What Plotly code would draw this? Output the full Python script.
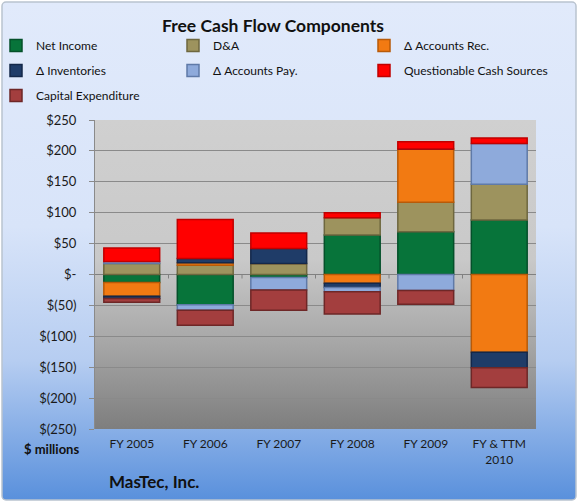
import base64
import plotly.graph_objects as go

# ---- data (USD millions) ----
categories = ["FY 2005", "FY 2006", "FY 2007", "FY 2008", "FY 2009", "FY & TTM<br>2010"]
net_income = [-13, -49, -5, 64, 69, 88]
d_and_a = [18, 15, 18, 28, 48, 58]
accounts_rec = [-22, 4, 0, -14, 86, -126]
inventories = [-4, 7, 24, -7, 0, -25]
accounts_pay = [3, -9, -20, -7, -26, 66]
questionable = [22, 63, 25, 8, 12, 9]
capex = [-6, -24, -33, -36, -22, -32]

y_tick_vals = [250, 200, 150, 100, 50, 0, -50, -100, -150, -200, -250]
y_tick_text = ["$250", "$200", "$150", "$100", "$50", "$-", "$(50)", "$(100)",
               "$(150)", "$(200)", "$(250)"]

series = [
    ("Net Income", net_income, "#07743a", "#04502a", "legend", "g1"),
    ("D&A", d_and_a, "#9d935e", "#6e673f", "legend2", "g2"),
    ("Δ Accounts Rec.", accounts_rec, "#f27a12", "#b85a08", "legend3", "g3"),
    ("Δ Inventories", inventories, "#1f3c68", "#14284a", "legend", "g4"),
    ("Δ Accounts Pay.", accounts_pay, "#8eaadb", "#5f7aa8", "legend2", "g5"),
    ("Questionable Cash Sources", questionable, "#ff0000", "#c00000", "legend3", "g6"),
    ("Capital Expenditure", capex, "#a33e3e", "#6e2727", "legend", "g7"),
]

W, H = 578, 502
L, R, T, B = 95, 42, 120, 73
pw, ph = W - L - R, H - T - B

FONT = "Lato, 'Open Sans', sans-serif"


def svg_uri(svg):
    return "data:image/svg+xml;base64," + base64.b64encode(svg.encode()).decode()


outer_svg = f"""<svg xmlns='http://www.w3.org/2000/svg' width='{W}' height='{H}' viewBox='0 0 {W} {H}' preserveAspectRatio='none'>
<defs><linearGradient id='g' x1='0' y1='0' x2='0' y2='1'>
<stop offset='0' stop-color='#e1eafb'/><stop offset='0.45' stop-color='#d8e4f9'/>
<stop offset='0.72' stop-color='#b6cdf1'/><stop offset='1' stop-color='#5990dc'/>
</linearGradient></defs>
<rect x='0' y='0' width='{W}' height='{H}' fill='#ffffff'/>
<rect x='2' y='2' width='{W-4}' height='{H-4}' rx='4' ry='4' fill='url(#g)' stroke='#b9c3cf' stroke-width='1.5'/>
</svg>"""

plot_svg = """<svg xmlns='http://www.w3.org/2000/svg' width='100' height='100' viewBox='0 0 100 100' preserveAspectRatio='none'>
<defs><linearGradient id='p' x1='0' y1='0' x2='0' y2='1'>
<stop offset='0' stop-color='#d0d0d0'/><stop offset='0.45' stop-color='#c9c9c9'/>
<stop offset='0.72' stop-color='#a7a7a7'/><stop offset='1' stop-color='#7e7e7e'/>
</linearGradient></defs>
<rect x='0' y='0' width='100' height='100' fill='url(#p)'/>
</svg>"""

fig = go.Figure()
for name, vals, col, line, leg, grp in series:
    fig.add_trace(go.Bar(
        x=categories, y=vals, name=name,
        marker=dict(color=col, line=dict(color=line, width=1.5)),
        legend=leg, legendgroup=grp,
    ))

leg_common = dict(orientation="v", xref="paper", yref="container",
                  yanchor="top", xanchor="left", bgcolor="rgba(0,0,0,0)",
                  font=dict(family=FONT, size=12, color="#111111"),
                  tracegroupgap=6, itemwidth=30)
ly = 1 - 31 / H

# small tick marks on the zero line between categories
tick_shapes = [
    dict(type="line", xref="x", yref="y", x0=i + 0.5, x1=i + 0.5,
         ysizemode="pixel", yanchor=0, y0=0, y1=-4,
         line=dict(color="#808080", width=1), layer="above")
    for i in range(len(categories) - 1)
]

fig.update_layout(
    width=W, height=H,
    margin=dict(l=L, r=R, t=T, b=B, autoexpand=False),
    barmode="relative",
    bargap=0.24,
    paper_bgcolor="white",
    plot_bgcolor="rgba(0,0,0,0)",
    font=dict(family=FONT, color="#111111"),
    title=dict(text="<b>Free Cash Flow Components</b>", x=273 / W, xanchor="center",
               y=1 - 26 / H, yanchor="middle",
               font=dict(family=FONT, size=17.5, color="#111111")),
    legend=dict(x=(-4 - L) / pw, y=ly, **leg_common),
    legend2=dict(x=(173 - L) / pw, y=ly, **leg_common),
    legend3=dict(x=(364 - L) / pw, y=ly, **leg_common),
    xaxis=dict(showgrid=False, ticks="", tickfont=dict(family=FONT, size=12, color="#1a1a1a"),
               showline=False, zeroline=False, range=[-0.5, len(categories) - 0.5],
               ticklabelstandoff=6),
    yaxis=dict(range=[-250, 250], tickvals=y_tick_vals, ticktext=y_tick_text,
               showgrid=True, gridcolor="#8a8a8a", gridwidth=1,
               zeroline=True, zerolinecolor="#808080", zerolinewidth=1,
               showline=True, linecolor="#8a8a8a", ticks="outside", ticklen=5,
               tickcolor="#8a8a8a", ticklabelstandoff=10,
               tickfont=dict(family=FONT, size=13, color="#1a1a1a")),
    shapes=tick_shapes,
    images=[
        dict(source=svg_uri(outer_svg), xref="paper", yref="paper",
             x=-L / pw, y=1 + T / ph, sizex=W / pw, sizey=H / ph,
             sizing="stretch", xanchor="left", yanchor="top", layer="below"),
        dict(source=svg_uri(plot_svg), xref="paper", yref="paper",
             x=0, y=1, sizex=1, sizey=1,
             sizing="stretch", xanchor="left", yanchor="top", layer="below"),
    ],
    annotations=[
        dict(text="<b>$ millions</b>", xref="paper", yref="paper",
             x=(51 - L) / pw, y=-(449 - (T + ph)) / ph, xanchor="center", yanchor="middle",
             showarrow=False, font=dict(family=FONT, size=13, color="#111111")),
        dict(text="<b>MasTec, Inc.</b>", xref="paper", yref="paper",
             x=(107 - L) / pw, y=-(481 - (T + ph)) / ph, xanchor="left", yanchor="middle",
             showarrow=False, font=dict(family=FONT, size=17, color="#111111")),
    ],
)

fig.write_html("out.html", config={"displayModeBar": False},
               post_script="document.body.style.margin='0';")
